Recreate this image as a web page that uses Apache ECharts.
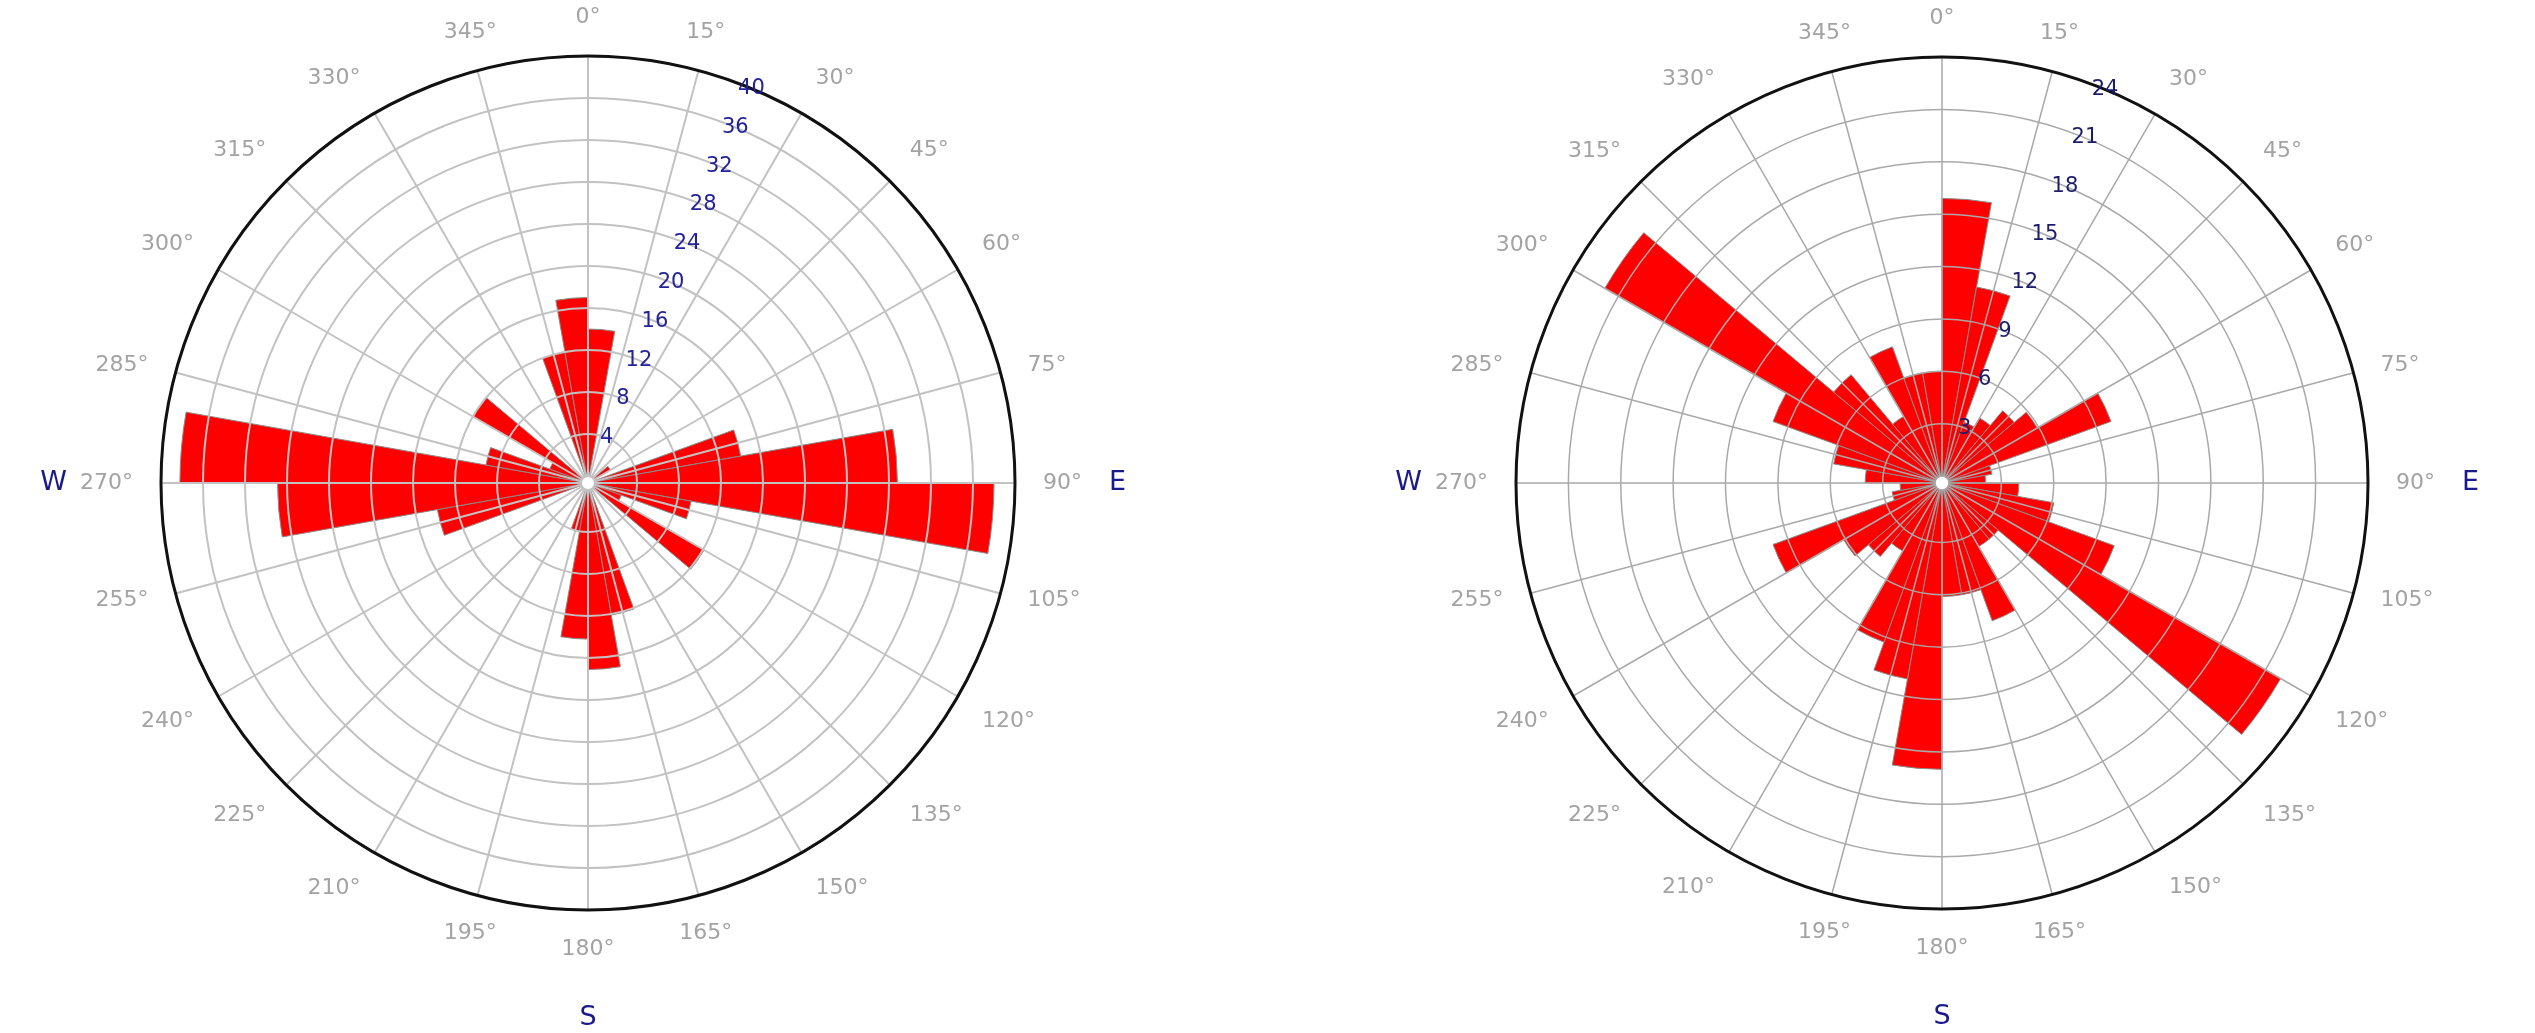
<!DOCTYPE html>
<html>
<head>
<meta charset="utf-8">
<title>Rose diagrams</title>
<script src="https://cdn.jsdelivr.net/npm/echarts@6/dist/echarts.min.js"></script>
<style>
  html, body { margin: 0; padding: 0; background: #fff; }
  #chart { width: 2535px; height: 1033px; }
</style>
</head>
<body>
<div id="chart"></div>
<script>
// 10 degree bins, clockwise from north (0-10, 10-20, ... 350-360)
const bins = ['0', '10', '20', '30', '40', '50', '60', '70', '80', '90', '100', '110',
  '120', '130', '140', '150', '160', '170', '180', '190', '200', '210', '220', '230',
  '240', '250', '260', '270', '280', '290', '300', '310', '320', '330', '340', '350'];

// left rose: counts per bin
const countsLeft = [14.0, 0, 0, 0, 0, 1.8, 0, 14.1, 28.8, 38.0, 9.3, 2.7,
  12.1, 0, 0, 0, 12.1, 17.1, 14.2, 4.0, 0, 0, 0, 0,
  0, 13.9, 28.9, 38.2, 9.2, 3.2, 12.0, 0, 0, 0, 12.0, 17.0];

// right rose: counts per bin
const countsRight = [15.9, 11.0, 3.3, 3.9, 5.0, 5.9, 9.9, 2.5, 2.1, 4.0, 6.1, 10.1,
  22.0, 3.8, 3.8, 8.0, 6.1, 6.1, 16.0, 11.0, 9.3, 4.1, 5.1, 6.1,
  9.9, 2.5, 2.0, 4.0, 5.9, 9.9, 21.9, 7.7, 4.0, 7.9, 6.0, 6.0];

// radial scales
const maxLeft = 40, stepLeft = 4;
const maxRight = 24, stepRight = 3;

const compass = { 0: 'N', 90: 'E', 180: 'S', 270: 'W' };

const chart = echarts.init(document.getElementById('chart'));

const font = 'DejaVu Sans, Verdana, sans-serif';

function rose(center, R, max, step, opts) {
  const hole = 7;
  const polar = [
    { center: center, radius: [hole, R] },          // bars
    { center: center, radius: [hole, R] },          // grid + degree labels
    { center: center, radius: [hole, R] },          // radial value labels
    { center: center, radius: [0, R] }              // outer circle + compass letters
  ];
  const angleAxis = [
    {
      type: 'category', data: bins, startAngle: 90, clockwise: true, boundaryGap: true,
      axisLine: { show: false }, axisTick: { show: false }, axisLabel: { show: false },
      splitLine: { show: false }
    },
    {
      type: 'value', min: 0, max: 360, interval: 15, startAngle: 90, clockwise: true, z: 10,
      axisLine: { show: false }, axisTick: { show: false },
      axisLabel: {
        margin: 28, color: '#a3a3a3', fontSize: 22, fontFamily: font,
        formatter: (v) => (v >= 360 ? '' : v + '°')
      },
      splitLine: { show: true, lineStyle: { color: opts.grid, width: opts.gridWidth } }
    },
    {
      type: 'value', min: 0, max: 360, startAngle: 67.5, clockwise: true,
      axisLine: { show: false }, axisTick: { show: false }, axisLabel: { show: false },
      splitLine: { show: false }
    },
    {
      type: 'value', min: 0, max: 360, interval: 90, startAngle: 90, clockwise: true, z: 12,
      axisLine: { show: true, lineStyle: { color: '#111', width: 3 } },
      axisTick: { show: false },
      axisLabel: {
        margin: 94, color: '#1a1a8a', fontSize: 27, fontFamily: font,
        formatter: (v) => compass[v] || ''
      },
      splitLine: { show: false }
    }
  ];
  const radiusAxis = [
    {
      type: 'value', min: 0, max: max,
      axisLine: { show: false }, axisTick: { show: false }, axisLabel: { show: false },
      splitLine: { show: false }
    },
    {
      type: 'value', min: 0, max: max, interval: step, z: 10,
      axisLine: { show: false }, axisTick: { show: false }, axisLabel: { show: false },
      splitLine: { show: true, lineStyle: { color: opts.grid, width: opts.gridWidth } }
    },
    {
      type: 'value', min: 0, max: max, interval: step, z: 14,
      axisLine: { show: false }, axisTick: { show: false },
      axisLabel: {
        margin: 0, align: 'center', verticalAlign: 'middle',
        color: opts.labelColor, fontSize: 21, fontFamily: font,
        formatter: (v) => (v === 0 ? '' : String(v))
      },
      splitLine: { show: false }
    },
    {
      type: 'value', min: 0, max: max,
      axisLine: { show: false }, axisTick: { show: false }, axisLabel: { show: false },
      splitLine: { show: false }
    }
  ];
  return { polar, angleAxis, radiusAxis };
}

const left = rose([588, 483], 427, maxLeft, stepLeft,
  { grid: '#c2c2c2', gridWidth: 2, labelColor: '#22229a' });
const right = rose([1942, 483], 426, maxRight, stepRight,
  { grid: '#a9a9a9', gridWidth: 1.5, labelColor: '#1c1c6e' });

const polar = left.polar.concat(right.polar);
const angleAxis = left.angleAxis.concat(right.angleAxis);
const radiusAxis = left.radiusAxis.concat(right.radiusAxis);
angleAxis.forEach((a, i) => { a.polarIndex = i; });
radiusAxis.forEach((a, i) => { a.polarIndex = i; });

const barStyle = { color: '#ff0000', borderColor: '#8a8a8a', borderWidth: 1 };

const option = {
  animation: false,
  backgroundColor: '#ffffff',
  polar: polar,
  angleAxis: angleAxis,
  radiusAxis: radiusAxis,
  series: [
    {
      type: 'bar', coordinateSystem: 'polar', polarIndex: 0,
      data: countsLeft, barCategoryGap: '0%', z: 2,
      itemStyle: barStyle
    },
    {
      type: 'bar', coordinateSystem: 'polar', polarIndex: 4,
      data: countsRight, barCategoryGap: '0%', z: 2,
      itemStyle: barStyle
    }
  ]
};

chart.setOption(option);
</script>
</body>
</html>
